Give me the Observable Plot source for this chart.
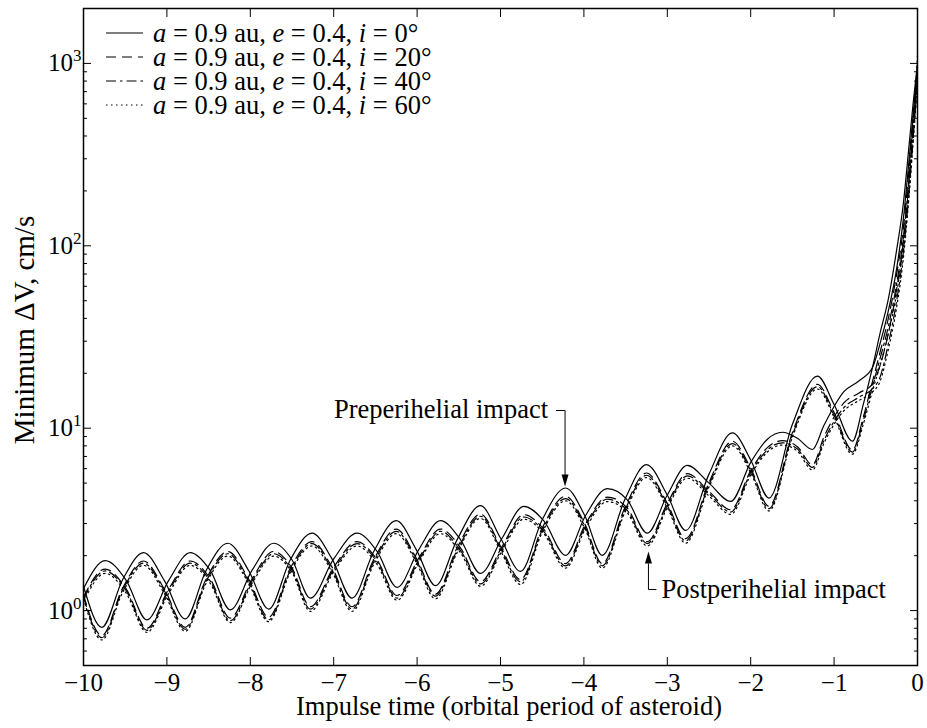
<!DOCTYPE html>
<html><head><meta charset="utf-8">
<script src="https://cdn.jsdelivr.net/npm/d3@7"></script>
<script src="https://cdn.jsdelivr.net/npm/@observablehq/plot@0.6"></script>
<style>
body{margin:0;background:#fff;}
#chart{width:927px;height:728px;}
</style></head><body><div id="chart"></div>
<script>
// ---- axis ticks ----
const xTicks = [-10,-9,-8,-7,-6,-5,-4,-3,-2,-1,0];
const yTicks = [1,10,100,1000];
const yTickExponents = ["0","1","2","3"];
const yMinorTicks = [0.5,0.6,0.7,0.8,0.9,2,3,4,5,6,7,8,9,20,30,40,50,60,70,80,90,200,300,400,500,600,700,800,900,2000];

// ---- series meta ----
const inclinations = [0,20,40,60];
const semiMajorAxis = "0.9";
const eccentricity = "0.4";

// ---- preperihelial impact family ----
const xPre = [-10,-9.78,-9.53,-9.28,-9.03,-8.78,-8.53,-8.27,-8.02,-7.78,-7.52,-7.26,-7.02,-6.78,-6.52,-6.25,-6.01,-5.78,-5.52,-5.24,-5.00,-4.76,-4.50,-4.22,-3.99,-3.78,-3.51,-3.25,-3.00,-2.78,-2.50,-2.22,-2.00,-1.78,-1.50,-1.20,-1.00,-0.78,-0.65,-0.54,-0.45,-0.35,-0.25,-0.17,-0.10,-0.05,0];
const pre_i0  = [1.36,0.81,1.48,2.08,1.46,0.90,1.66,2.34,1.66,1.02,1.90,2.66,1.92,1.17,2.11,3.11,2.16,1.37,2.45,3.76,2.50,1.64,3.15,4.70,3.32,2.01,4.05,6.31,4.30,2.75,5.60,9.42,6.70,4.14,10.5,19.3,13.5,8.49,13.5,21.5,33,51,95,170,360,620,1000];
const pre_i20 = [1.22,0.73,1.33,1.87,1.31,0.81,1.49,2.11,1.49,0.92,1.71,2.39,1.73,1.05,1.90,2.80,1.94,1.23,2.21,3.38,2.25,1.48,2.84,4.23,2.99,1.81,3.65,5.68,3.87,2.48,5.04,8.48,6.03,3.73,9.45,17.4,12.2,7.6,11.5,18.0,26,40,70,125,270,520,950];
const pre_i40 = [1.19,0.71,1.30,1.82,1.28,0.79,1.45,2.05,1.45,0.89,1.66,2.33,1.68,1.02,1.85,2.72,1.89,1.20,2.14,3.29,2.19,1.44,2.76,4.11,2.91,1.76,3.54,5.52,3.76,2.41,4.90,8.24,5.86,3.62,9.19,16.9,11.8,7.4,11.0,17.0,24,36,62,110,240,480,900];
const pre_i60 = [1.16,0.69,1.26,1.77,1.24,0.77,1.41,1.99,1.41,0.87,1.62,2.26,1.63,0.99,1.79,2.64,1.84,1.16,2.08,3.20,2.13,1.39,2.68,4.00,2.82,1.71,3.44,5.36,3.66,2.34,4.76,8.01,5.70,3.52,8.93,16.4,11.5,7.2,10.5,16.0,22,33,55,100,220,450,1100];

// ---- postperihelial impact family ----
const xPost = [-10,-9.74,-9.49,-9.24,-8.98,-8.72,-8.48,-8.24,-7.98,-7.72,-7.50,-7.28,-7.00,-6.72,-6.48,-6.24,-5.98,-5.72,-5.48,-5.24,-4.98,-4.72,-4.48,-4.22,-3.98,-3.72,-3.48,-3.24,-3.00,-2.76,-2.50,-2.24,-2.00,-1.80,-1.62,-1.44,-1.26,-1.12,-0.88,-0.70,-0.54,-0.45,-0.35,-0.25,-0.17,-0.10,-0.05,0];
const post_i0  = [1.32,1.88,1.47,0.89,1.46,2.08,1.66,1.01,1.66,2.34,1.90,1.17,1.92,2.66,2.11,1.34,2.16,3.11,2.45,1.60,2.50,3.73,3.10,2.01,3.32,4.66,4.05,2.66,4.30,6.26,5.00,3.97,6.50,8.70,9.50,8.80,7.64,10.4,15.9,18.2,21.5,29,44,75,140,300,540,950];
const post_i20 = [1.19,1.69,1.32,0.80,1.31,1.87,1.49,0.91,1.49,2.11,1.71,1.05,1.73,2.39,1.90,1.21,1.94,2.80,2.21,1.44,2.25,3.36,2.79,1.81,2.99,4.19,3.65,2.39,3.87,5.63,4.50,3.57,5.85,7.83,8.55,7.92,6.3,9.0,13.8,15.6,17.5,22,33,58,105,230,450,850];
const post_i40 = [1.16,1.65,1.29,0.78,1.28,1.82,1.45,0.88,1.45,2.05,1.66,1.02,1.68,2.33,1.85,1.17,1.89,2.72,2.14,1.40,2.19,3.26,2.71,1.76,2.91,4.08,3.54,2.33,3.76,5.48,4.38,3.47,5.69,7.61,8.31,7.70,6.1,8.6,13.0,14.8,16.5,19,29,50,92,200,400,800];
const post_i60 = [1.12,1.60,1.25,0.76,1.24,1.77,1.41,0.86,1.41,1.99,1.62,0.99,1.63,2.26,1.79,1.14,1.84,2.64,2.08,1.36,2.13,3.17,2.64,1.71,2.82,3.96,3.44,2.26,3.66,5.32,4.25,3.37,5.53,7.40,8.08,7.48,5.9,8.3,12.5,14.2,15.8,18,27,46,85,190,380,750];

// ---- annotations (data points they point to) ----
const annPre = {label: "Preperihelial impact", x: -4.22, y: 4.70};
const annPost = {label: "Postperihelial impact", x: -3.22, y: 2.26};

// ---- build table ----
const preSeries = [pre_i0, pre_i20, pre_i40, pre_i60];
const postSeries = [post_i0, post_i20, post_i40, post_i60];
const rows = [];
inclinations.forEach((inc, k) => {
  xPre.forEach((t, j) => rows.push({t, v: preSeries[k][j], inc, family: "pre"}));
  xPost.forEach((t, j) => rows.push({t, v: postSeries[k][j], inc, family: "post"}));
});

const dashStyles = [null, "10,6", "10,4,2.5,4", "1.5,3.5"];
const FONT = "'Liberation Serif','Times New Roman',serif";

const lineMarks = inclinations.map((inc, k) => {
  const opts = {x: "t", y: "v", z: "family", stroke: "#000", strokeWidth: 1.2, curve: "monotone-x"};
  if (dashStyles[k]) opts.strokeDasharray = dashStyles[k];
  return Plot.line(rows.filter(r => r.inc === inc), opts);
});

const plot = Plot.plot({
  width: 927, height: 728,
  marginLeft: 83, marginRight: 10, marginTop: 8, marginBottom: 63,
  style: {fontFamily: FONT, fontSize: "25px", color: "#000", background: "#fff"},
  x: {domain: [-10, 0]},
  y: {type: "log", domain: [0.5, 2000]},
  marks: [
    ...lineMarks,
    Plot.frame({stroke: "#000", strokeWidth: 1.5}),
    Plot.axisX({ticks: xTicks, tickSize: 0, tickPadding: 8, label: null}),
    Plot.axisX({ticks: xTicks, anchor: "bottom", tickSize: -8, fill: "none", label: null}),
    Plot.axisX({ticks: xTicks, anchor: "top", tickSize: -8, fill: "none", label: null}),
    Plot.axisY({ticks: yTicks, tickSize: 0, tickPadding: 2, tickFormat: d => yTickExponents[yTicks.indexOf(d)], label: null}),
    Plot.axisY({ticks: yTicks, anchor: "left", tickSize: -8, fill: "none", label: null}),
    Plot.axisY({ticks: yTicks, anchor: "right", tickSize: -8, fill: "none", label: null}),
    Plot.axisY({ticks: yMinorTicks, anchor: "left", tickSize: -4, fill: "none", label: null}),
    Plot.axisY({ticks: yMinorTicks, anchor: "right", tickSize: -4, fill: "none", label: null})
  ]
});
document.getElementById("chart").appendChild(plot);

const svg = d3.select(plot);
// superscript y tick labels
svg.selectAll('g[aria-label="y-axis tick label"] text').each(function() {
  const e = this.textContent;
  this.textContent = "10";
  d3.select(this).append("tspan").attr("dy", -10).attr("font-size", 17).text(e);
});

const xs = plot.scale("x"), ys = plot.scale("y");
const g = svg.append("g").attr("font-family", FONT).attr("font-size", 26.5)
  .attr("fill", "#000").attr("text-anchor", "start");

// legend
inclinations.forEach((inc, k) => {
  const cy = 33 + 24 * k;
  const ln = g.append("line").attr("x1", 106).attr("x2", 143).attr("y1", cy).attr("y2", cy)
    .attr("stroke", "#000").attr("stroke-width", 1.2);
  if (dashStyles[k]) ln.attr("stroke-dasharray", dashStyles[k]);
  const t = g.append("text").attr("x", 153).attr("y", cy + 9);
  t.append("tspan").attr("font-style", "italic").text("a");
  t.append("tspan").text(` = ${semiMajorAxis} au, `);
  t.append("tspan").attr("font-style", "italic").text("e");
  t.append("tspan").text(` = ${eccentricity}, `);
  t.append("tspan").attr("font-style", "italic").text("i");
  t.append("tspan").text(` = ${inc}°`);
});

// annotations
{
  const px = xs.apply(annPre.x), py = ys.apply(annPre.y);
  const top = py - 77;
  g.append("path").attr("d", `M${px - 9},${top}H${px}V${py - 12}`).attr("fill", "none").attr("stroke", "#000").attr("stroke-width", 1);
  g.append("path").attr("d", `M${px},${py - 1}L${px - 3.5},${py - 13}L${px + 3.5},${py - 13}Z`).attr("fill", "#000");
  g.append("text").attr("x", px - 17).attr("y", top + 7).attr("text-anchor", "end").text(annPre.label);
}
{
  const px = xs.apply(annPost.x), py = ys.apply(annPost.y);
  const tip = py + 6, bottom = py + 44;
  g.append("path").attr("d", `M${px},${tip + 12}V${bottom}H${px + 8}`).attr("fill", "none").attr("stroke", "#000").attr("stroke-width", 1);
  g.append("path").attr("d", `M${px},${tip}L${px - 3.5},${tip + 12}L${px + 3.5},${tip + 12}Z`).attr("fill", "#000");
  g.append("text").attr("x", px + 13).attr("y", bottom + 8).text(annPost.label);
}

// axis labels
g.append("text").attr("x", 509).attr("y", 715).attr("text-anchor", "middle").text("Impulse time (orbital period of asteroid)");
g.append("text").attr("transform", "translate(34,330) rotate(-90)").attr("text-anchor", "middle").attr("font-size", 29).text("Minimum ΔV, cm/s");
</script>
</body></html>
